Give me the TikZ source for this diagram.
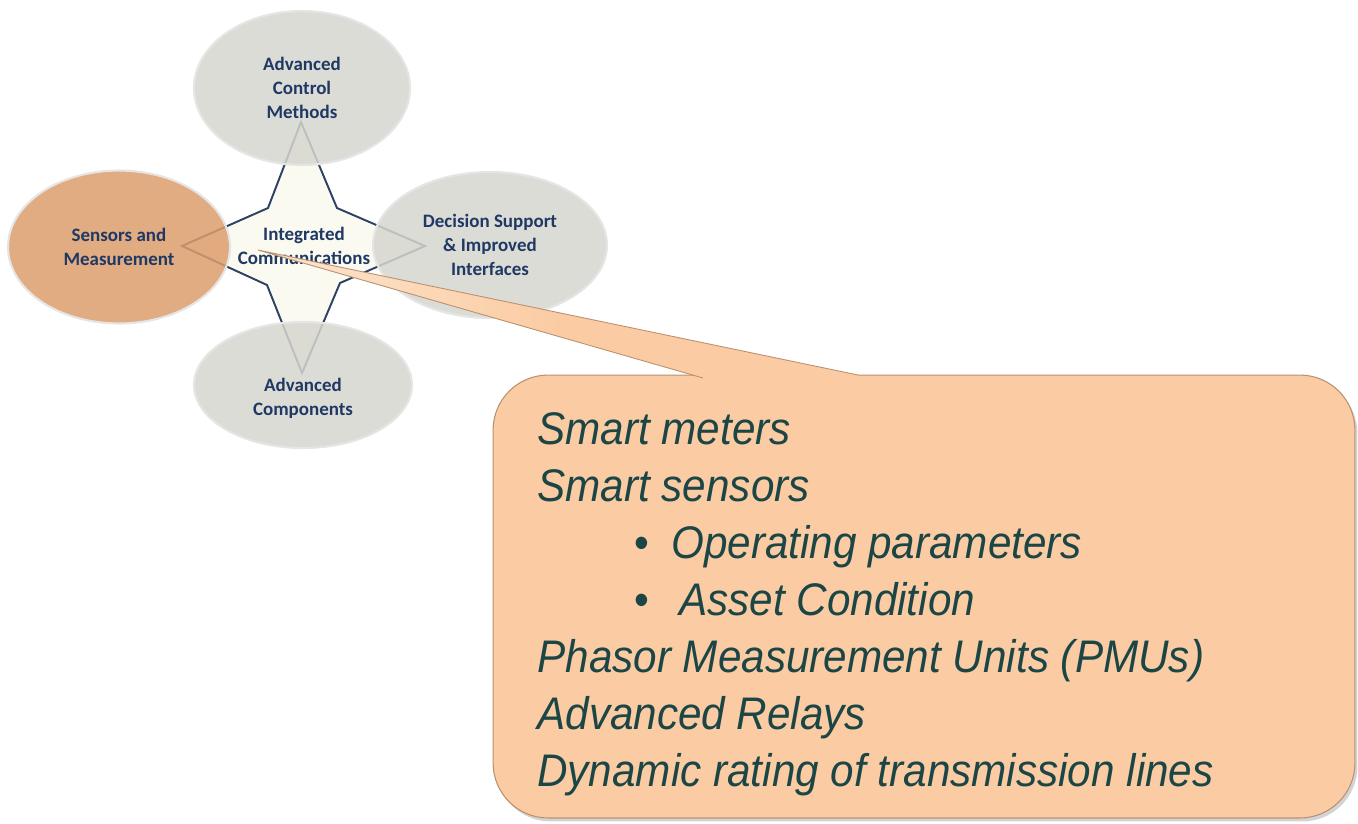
\documentclass[tikz,border=0pt]{standalone}
\usepackage{fontspec}
\usepackage{tikz}
\usetikzlibrary{shapes.geometric}
\usetikzlibrary{shadows}
\newfontfamily\ellfont{Carlito}
\newfontfamily\itemfont[FakeStretch=0.925]{Liberation Sans}
\definecolor{navy}{RGB}{31,56,100}
\definecolor{ellgray}{RGB}{214,214,207}
\definecolor{ellorange}{RGB}{221,157,108}
\definecolor{starfill}{RGB}{251,250,240}
\definecolor{starline}{RGB}{45,65,100}
\definecolor{peach}{RGB}{251,204,163}
\definecolor{peachline}{RGB}{185,145,110}
\definecolor{tealtxt}{RGB}{28,70,70}
\tikzstyle{ell}=[ellipse, inner sep=0pt, draw=white!80!gray, line width=1.2pt, fill opacity=0.85, text opacity=1, text=navy, align=center, font=\ellfont\bfseries\fontsize{10.8}{13.6}\selectfont]
\tikzstyle{midtxt}=[inner sep=0pt, text=navy, align=center, font=\ellfont\bfseries\fontsize{10.8}{13.6}\selectfont]
\tikzstyle{compass}=[fill=starfill, draw=starline, line width=1.1pt, line join=miter]
\tikzstyle{bubble}=[rectangle, rounded corners=1.1cm, fill=peach, draw=peachline, line width=0.6pt, drop shadow={opacity=0.35, shadow xshift=0.05cm, shadow yshift=-0.07cm}]
\tikzstyle{pointer}=[left color=peach!50!white, right color=peach]
\tikzstyle{pointerline}=[draw=peachline, line width=0.5pt]
\tikzstyle{itemtxt}=[anchor=base west, inner sep=0pt, text=tealtxt, font=\itemfont\itshape\fontsize{26}{32}\selectfont]

\begin{document}
\begin{tikzpicture}[x=0.02cm, y=-0.02cm]
	\useasboundingbox (0,0) rectangle (1358,823);
	% four-pointed star in the middle
	\draw[compass] (301,122) -- (337,208) -- (425,246) -- (340,283) -- (302,373) -- (267,285) -- (182,246) -- (268,208) -- cycle;
	\draw (302,88) node[ell, fill=ellgray, minimum width=4.32cm, minimum height=3.08cm] (ctrl) {Advanced\\Control\\Methods};
	\draw (119,247) node[ell, fill=ellorange, minimum width=4.44cm, minimum height=3.06cm] (sens) {Sensors and\\Measurement};
	\draw (490,245) node[ell, fill=ellgray, minimum width=4.68cm, minimum height=2.92cm] (dec) {Decision Support\\\& Improved\\Interfaces};
	\draw (303,385) node[ell, fill=ellgray, minimum width=4.36cm, minimum height=2.52cm] (comp) {};
	\draw (303,398) node[midtxt] (complab) {Advanced\\Components};
	\draw (304,246) node[midtxt] (integ) {Integrated\\Communications};
	% callout
	\draw (924,596.5) node[bubble, minimum width=17.24cm, minimum height=8.86cm] (box) {};
	\fill[peach] (258,250) -- (858,375) -- (858,395) -- (700,395) -- (703,378) -- cycle;
	\shade[pointer] (258,250) -- (560,313) -- (560,337) -- cycle;
	\draw[pointerline] (703,378) -- (258,250) -- (858,375);
	\foreach \x/\t [count=\i] in {537/Smart meters, 537/Smart sensors, 634/{\upshape\textbullet}\hspace{0.44cm}Operating parameters, 634/{\upshape\textbullet}\hspace{0.6cm}Asset Condition, 537/Phasor Measurement Units (PMUs), 537/Advanced Relays, 537/Dynamic rating of transmission lines}
		\node[itemtxt] (line\i) at (\x, 444+57*\i-57) {\t};
\end{tikzpicture}
\end{document}
